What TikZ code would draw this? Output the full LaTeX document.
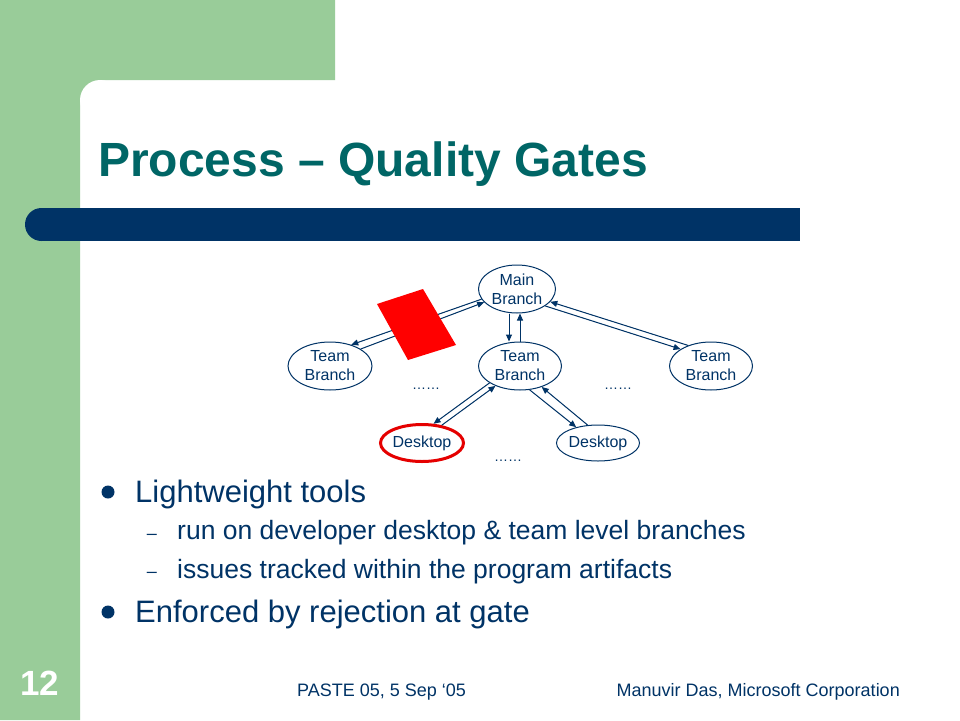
\documentclass[tikz,border=0pt]{standalone}
\usepackage{fontspec}
\setmainfont{Liberation Sans}
\usetikzlibrary{shapes.geometric, arrows.meta, positioning}
\definecolor{slidegreen}{RGB}{153,204,153}
\definecolor{titleteal}{RGB}{0,102,102}
\definecolor{navy}{RGB}{0,51,102}
\tikzset{
    >={Triangle[length=7pt,width=6pt]}, % small filled heads
    branch/.style={ellipse, draw=navy, line width=1pt, text=navy, inner sep=0pt, minimum width=83pt, minimum height=48pt, align=center, font=\fontsize{16}{19}\selectfont},
    desk/.style={branch, minimum width=82pt, minimum height=36pt},
    flow/.style={->, draw=navy, fill=navy, line width=1pt},
    dots/.style={text=navy, inner sep=0pt, anchor=base, font=\fontsize{14}{14}\selectfont},
    txt/.style={inner sep=0pt, anchor=base west, text=navy}
}

\begin{document}
\begin{tikzpicture}[x=1pt, y=-1pt]
    \useasboundingbox (0,0) rectangle (960,720);
    % slide frame
    \fill[white] (0,0) rectangle (960,720);
    \fill[slidegreen] (0,0) rectangle (80,720) (0,0) rectangle (335,80) (80,80) rectangle (100,100);
    \fill[white] (100,100) circle[radius=20];
    \fill[navy] (41.5,208) rectangle (800,241);
    \fill[navy] (41.5,224.5) circle[radius=16.5];
    \node[txt, text=titleteal, font=\fontsize{48}{48}\selectfont\bfseries] (title) at (98,176) {Process – Quality Gates};

    % branches
    \node[branch, minimum width=77pt] (mb) at (517,289) {Main\\Branch};
    \node[branch, minimum width=84pt] (tl) at (330,366) {Team\\Branch};
    \node[branch] (tm) at (520,366) {Team\\Branch};
    \node[branch] (tr) at (711,366) {Team\\Branch};
    \node[desk, draw=red!90!black, line width=3pt, minimum width=79pt, minimum height=37pt] (dl) at (422,443) {Desktop};
    \node[desk] (dr) at (598,443) {Desktop};

    \draw[flow] (mb.196) -- (tl.45);
    \draw[flow] (tl.29) -- (mb.202);
    \draw[flow] ([xshift=-8pt]mb.south) -- ([xshift=-8pt]mb.south |- tm.north);
    \draw[flow] (tm.north) -- (tm.north |- mb.south);
    \draw[flow] (mb.329) -- (tr.151);
    \draw[flow] (tr.138) -- (mb.339);
    \draw[flow] (tm.209) -- (dl.59);
    \draw[flow] (dl.42) -- (tm.219);
    \draw[flow] (tm.292) -- (dr.144);
    \draw[flow] (dr.120) -- (tm.316);

    % rejected change
    \fill[red] (377,304) -- (423,289) -- (456,345) -- (408,360) -- cycle;

    \node[dots] (gapl) at (426,389) {……};
    \node[dots] (gapr) at (618,389) {……};
    \node[dots] (gapd) at (508,461) {……};

    % bullets
    \fill[navy] (108,492) circle[radius=6.5];
    \fill[navy] (108,612) circle[radius=6.5];
    \node[txt, font=\fontsize{31}{31}\selectfont] (pt1) at (135,502) {Lightweight tools};
    \node[text=navy, inner sep=0pt, font=\fontsize{18}{18}\selectfont] (dash1) at (152,537) {–};
    \node[text=navy, inner sep=0pt, font=\fontsize{18}{18}\selectfont] (dash2) at (152,575) {–};
    \node[txt, font=\fontsize{26.5}{26.5}\selectfont] (sub1) at (177,539) {run on developer desktop \& team level branches};
    \node[txt, font=\fontsize{26.5}{26.5}\selectfont] (sub2) at (177,578) {issues tracked within the program artifacts};
    \node[txt, font=\fontsize{31}{31}\selectfont] (pt2) at (135,622) {Enforced by rejection at gate};

    % footer
    \node[text=white, inner sep=0pt, anchor=base, font=\fontsize{35}{35}\selectfont\bfseries] (pgno) at (40,695) {12};
    \node[txt, font=\fontsize{18}{18}\selectfont] (venue) at (297,696) {PASTE 05, 5 Sep ‘05};
    \node[txt, anchor=base east, font=\fontsize{18}{18}\selectfont] (author) at (900,696) {Manuvir Das, Microsoft Corporation};
\end{tikzpicture}
\end{document}
